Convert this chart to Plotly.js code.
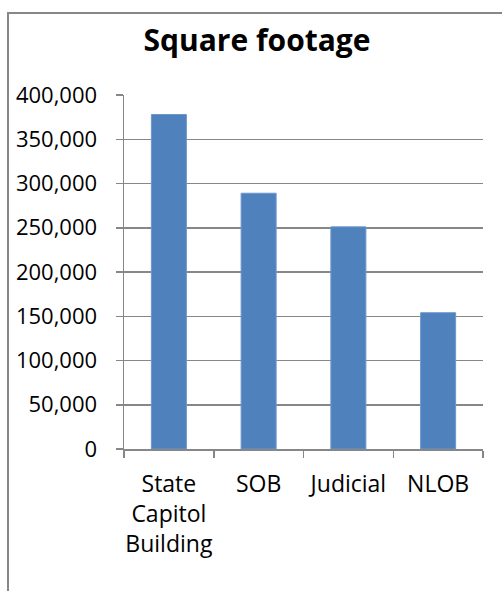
<!DOCTYPE html>
<html>
<head>
<meta charset="utf-8">
<script src="https://cdn.plot.ly/plotly-3.0.1.min.js"></script>
<style>
  html, body { margin: 0; padding: 0; background: #fff; }
  #wrap { position: relative; width: 502px; height: 591px; }
  #chart { position: absolute; left: 0; top: 0; width: 502px; height: 591px; }
  #frame { position: absolute; left: 7px; top: 12px; right: 0; bottom: 0;
           border-left: 2px solid #878787; border-top: 2px solid #878787;
           pointer-events: none; }
</style>
</head>
<body>
<div id="wrap">
  <div id="chart"></div>
  <div id="frame"></div>
</div>
<script>
const chartTitle = 'Square footage';
const categories = ['State Capitol Building', 'SOB', 'Judicial', 'NLOB'];
const tickLabels = ['State<br>Capitol<br>Building', 'SOB', 'Judicial', 'NLOB'];
const squareFootage = [378000, 289000, 251000, 154000];
const yTicks = [0, 50000, 100000, 150000, 200000, 250000, 300000, 350000, 400000];

const font = 'Open Sans, sans-serif';
const gray = '#878787';

const trace = {
  type: 'bar',
  x: categories,
  y: squareFootage,
  marker: { color: '#4F81BD', line: { color: '#6C97CC', width: 1 } },
  hoverinfo: 'x+y'
};

const layout = {
  width: 502,
  height: 591,
  paper_bgcolor: '#ffffff',
  plot_bgcolor: '#ffffff',
  margin: { l: 124, r: 19, t: 95, b: 142, pad: 0 },
  showlegend: false,
  bargap: 0.61,
  title: {
    text: '<b>' + chartTitle + '</b>',
    font: { family: font, size: 30, color: '#000' },
    x: 257 / 502, xanchor: 'center', xref: 'container',
    y: 1 - 40.5 / 591, yanchor: 'middle', yref: 'container'
  },
  xaxis: {
    type: 'category',
    tickmode: 'array',
    tickvals: categories,
    ticktext: tickLabels,
    tickson: 'boundaries',
    tickangle: 0,
    ticks: 'outside',
    ticklen: 7,
    tickwidth: 1.5,
    tickcolor: gray,
    showline: true,
    linecolor: gray,
    linewidth: 1.5,
    showgrid: false,
    zeroline: false,
    tickfont: { family: font, size: 23, color: '#000' },
    ticklabelstandoff: 14,
    fixedrange: true
  },
  yaxis: {
    range: [0, 400000],
    tickmode: 'array',
    tickvals: yTicks,
    tickformat: ',d',
    ticks: 'outside',
    ticklen: 7,
    tickwidth: 1.5,
    tickcolor: gray,
    showline: true,
    linecolor: gray,
    linewidth: 1.5,
    showgrid: true,
    gridcolor: gray,
    gridwidth: 1.5,
    zeroline: false,
    tickfont: { family: font, size: 22, color: '#000' },
    ticklabelstandoff: 14,
    fixedrange: true
  }
};

Plotly.newPlot('chart', [trace], layout, { displayModeBar: false, staticPlot: true });
</script>
</body>
</html>
